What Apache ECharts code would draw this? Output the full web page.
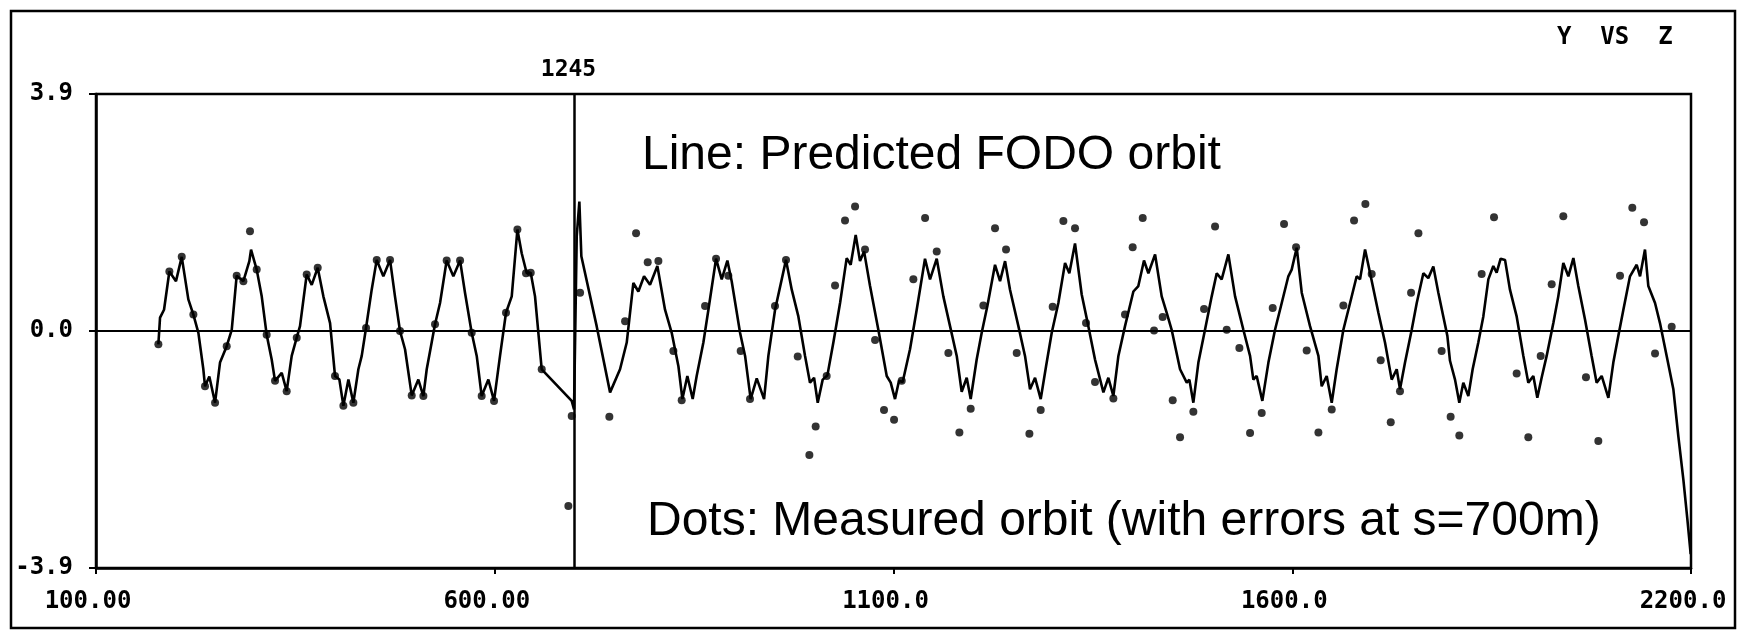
<!DOCTYPE html>
<html>
<head>
<meta charset="utf-8">
<script src="https://cdn.jsdelivr.net/npm/echarts@6/dist/echarts.min.js"></script>
<style>
html,body{margin:0;padding:0;background:#fff;}
#c{width:1740px;height:631px;}
</style>
</head>
<body>
<div id="c"></div>
<script>
// ---- data (s in m, y in mm) ----
const xTickValues = [100, 600, 1100, 1600, 2100];
const xTickLabels = ['100.00', '600.00', '1100.0', '1600.0', '2200.0'];
const yTickValues = [-3.9, 0, 3.9];
const yTickLabels = ['-3.9', '0.0', '3.9'];
const markerS = 700;
const markerLabel = '1245';
const cornerTitle = 'Y  VS  Z';
const lineNote = 'Line: Predicted FODO orbit';
const dotNote = 'Dots: Measured orbit (with errors at s=700m)';

// Predicted orbit (line)
const lineS = [178.2,180.3,185.3,192.0,200.3,207.5,215.8,222.1,228.4,234.6,236.7,242.1,249.3,255.5,263.9,270.2,276.4,284.8,292.3,294.4,301.5,307.8,314.0,320.3,324.5,332.9,339.1,345.4,351.7,355.8,364.2,370.5,378.0,385.1,393.5,399.7,405.2,410.2,416.5,422.7,429.0,433.2,438.6,445.7,452.0,460.3,468.7,474.9,481.2,487.5,495.9,504.2,510.5,
514.7,520.9,525.1,531.4,539.7,548.1,556.5,562.7,571.1,577.4,583.6,592.0,599.1,606.6,614.1,621.3,628.4,633.8,640.1,645.1,650.5,658.9,696.5,699.4,702.8,706.1,708.6,727.8,744.6,757.1,765.5,773.8,780.1,787.2,794.7,803.9,813.5,821.9,830.3,835.3,841.5,848.2,853.2,861.6,867.9,877.5,884.6,891.7,897.1,907.6,913.9,920.9,928.5,937.7,
943.1,951.5,965.2,972.4,980.7,989.1,995.3,1000.4,1005.0,1011.2,1017.1,1024.6,1033.0,1041.3,1046.3,1052.6,1058.0,1063.1,1070.6,1081.0,1091.5,1096.5,1101.9,1106.9,1111.5,1120.7,1129.1,1139.5,1145.8,1154.2,1162.5,1170.9,1179.3,1185.5,1191.8,1196.8,1204.3,1210.6,1217.7,1227.3,1233.6,1239.9,1246.1,1256.6,1264.9,1271.2,1277.5,1284.6,1291.3,1298.4,1306.7,1315.1,1320.5,1327.6,1336.0,1344.3,
1352.7,1363.2,1369.4,1375.7,1382.0,1390.3,1400.8,1407.0,1414.1,1419.6,1428.0,1436.3,1442.6,1448.8,1459.3,1467.7,1471.0,1476.0,1482.3,1490.6,1499.0,1505.3,1511.5,1519.9,1528.3,1538.7,1547.1,1551.2,1555.4,1562.5,1570.1,1578.4,1586.8,1595.1,1599.3,1605.6,1611.9,1622.3,1632.8,1636.9,1643.2,1649.5,1655.7,1664.1,1672.5,1680.8,1685.0,1691.3,1697.5,1708.0,1716.3,1724.7,1731.0,1735.1,1741.4,1749.8,1756.1,
1764.4,1770.6,1776.9,1783.2,1789.4,1794.5,1797.8,1804.1,1809.5,1814.5,1820.8,1826.2,1833.3,1839.6,1845.9,1852.1,1856.3,1861.3,1866.8,1873.0,1881.4,1889.8,1896.0,1902.3,1907.3,1912.7,1919.0,1927.4,1933.6,1939.9,1946.2,1952.5,1958.7,1967.1,1975.4,1981.7,1988.0,1996.4,2002.6,2008.9,2015.2,2023.5,2031.9,2036.1,2042.3,2046.5,2054.9,2061.1,2069.5,2077.9,2084.1,2090.4,2095.4,2099.6];
const lineY = [-0.22,0.22,0.35,0.98,0.82,1.22,0.52,0.27,-0.03,-0.63,-0.91,-0.75,-1.18,-0.52,-0.25,0.02,0.91,0.82,1.15,1.34,1.01,0.57,-0.06,-0.47,-0.82,-0.69,-0.99,-0.41,-0.11,0.08,0.93,0.76,1.04,0.57,0.13,-0.74,-0.80,-1.23,-0.80,-1.18,-0.63,-0.41,0.05,0.68,1.17,0.90,1.17,0.57,0.00,-0.30,-1.06,-0.80,-1.07,
-0.63,-0.19,0.11,0.46,1.16,0.90,1.16,0.63,-0.03,-0.41,-1.07,-0.80,-1.15,-0.41,0.30,0.57,1.67,1.28,0.95,0.96,0.57,-0.63,-1.15,-1.29,1.56,2.13,1.23,0.08,-1.01,-0.63,-0.19,0.79,0.65,0.90,0.76,1.07,0.35,-0.03,-0.58,-1.12,-0.74,-1.12,-0.74,-0.19,0.35,1.19,0.85,1.16,0.82,-0.03,-0.41,-1.12,-0.78,-1.12,
-0.41,0.35,1.17,0.68,0.24,-0.41,-0.85,-0.77,-1.18,-0.80,-0.73,-0.19,0.46,1.20,1.09,1.58,1.15,1.31,0.74,0.02,-0.74,-0.85,-1.12,-0.82,-0.84,-0.30,0.35,1.19,0.85,1.19,0.57,0.08,-0.41,-1.00,-0.77,-1.12,-0.47,-0.03,0.41,1.09,0.82,1.15,0.68,0.08,-0.41,-0.96,-0.77,-1.12,-0.58,-0.03,0.46,1.12,0.95,1.44,0.60,0.08,
-0.47,-1.01,-0.77,-1.07,-0.41,0.08,0.65,0.74,1.16,0.95,1.26,0.57,0.30,0.02,-0.63,-0.85,-0.80,-1.18,-0.52,0.02,0.57,0.95,0.85,1.26,0.57,0.02,-0.41,-0.80,-0.74,-1.15,-0.52,0.02,0.46,0.90,1.01,1.37,0.63,0.08,-0.41,-0.91,-0.74,-1.18,-0.63,0.02,0.46,0.90,0.85,1.34,0.96,0.30,-0.19,-0.80,-0.63,-0.96,-0.52,0.02,0.46,
0.95,0.87,1.06,0.63,0.24,-0.08,-0.49,-0.80,-1.18,-0.85,-1.07,-0.63,-0.19,0.24,0.85,1.07,0.96,1.19,1.17,0.68,0.24,-0.41,-0.85,-0.74,-1.10,-0.77,-0.41,0.13,0.57,1.12,0.90,1.20,0.74,0.19,-0.41,-0.85,-0.74,-1.10,-0.52,-0.08,0.35,0.90,1.09,0.90,1.34,0.74,0.46,0.13,-0.41,-0.96,-1.73,-2.44,-3.09,-3.67];

// Measured orbit (dots)
const dotS = [178.2,192.0,207.5,222.1,236.7,249.3,263.9,276.4,284.8,293.1,301.5,314.0,324.5,339.1,351.7,364.2,378.0,399.7,410.2,422.7,438.6,452.0,468.7,481.2,495.9,510.5,525.1,539.7,556.5,571.1,583.6,599.1,614.1,628.4,639.2,645.1,658.9,692.3,696.5,707.0,
743.7,763.4,777.2,791.8,805.2,824.0,834.4,863.7,877.5,892.9,908.4,920.1,951.4,965.2,979.9,994.5,1002.4,1016.2,1026.7,1039.2,1051.8,1064.3,1076.9,1088.1,1100.7,1110.3,1124.9,1139.6,1154.2,1168.8,1182.6,1196.8,1212.7,1227.3,1241.1,1254.5,1270.4,1284.6,1299.6,1313.0,1327.6,1341.4,
1352.7,1375.7,1390.3,1399.9,1412.5,1426.7,1437.5,1450.1,1459.3,1476.0,1489.4,1503.2,1517.8,1533.7,1547.1,1561.7,1575.5,1589.7,1604.8,1618.1,1632.8,1649.5,1664.1,1677.5,1691.7,1699.6,1710.9,1723.5,1735.1,1749.0,1758.2,
1787.3,1798.6,1809.5,1837.5,1853.0,1881.4,1896.0,1911.5,1925.3,1939.9,1968.3,1983.8,2011.0,2026.4,2041.1,2054.9,2075.8];
const dotY = [-0.22,0.98,1.22,0.27,-0.91,-1.18,-0.25,0.91,0.82,1.64,1.01,-0.06,-0.82,-0.99,-0.11,0.93,1.04,-0.74,-1.23,-1.18,0.05,1.17,1.17,0.00,-1.06,-1.07,0.11,1.16,1.16,-0.03,-1.07,-1.15,0.30,1.67,0.95,0.96,-0.63,-2.88,-1.40,0.63,
-1.41,0.16,1.61,1.13,1.15,-0.33,-1.14,0.41,1.19,0.91,-0.33,-1.12,0.41,1.17,-0.42,-2.04,-1.57,-0.74,0.75,1.82,2.05,1.34,-0.15,-1.30,-1.46,-0.82,0.85,1.86,1.31,-0.36,-1.67,-1.28,0.42,1.69,1.34,-0.36,-1.69,-1.30,0.40,1.81,1.69,0.13,
-0.84,-1.11,0.27,1.38,1.86,0.01,0.23,-1.14,-1.75,-1.33,0.36,1.72,0.02,-0.28,-1.68,-1.35,0.38,1.76,1.38,-0.32,-1.67,-1.29,0.42,1.82,2.09,0.94,-0.48,-1.50,-0.99,0.63,1.61,
-0.33,-1.41,-1.72,0.94,1.87,-0.70,-1.75,-0.41,0.77,1.89,-0.76,-1.81,0.91,2.03,1.79,-0.37,0.07];

// ---- build ----
const ink = '#000';
const monoFont = 'DejaVu Sans Mono';
const lineData = lineS.map((s, i) => [s, lineY[i]]);
const dotData = dotS.map((s, i) => [s, dotY[i]]);

const chart = echarts.init(document.getElementById('c'), null, {renderer: 'canvas'});
chart.setOption({
  backgroundColor: '#ffffff',
  animation: false,
  grid: {left: 96, right: 49, top: 94, bottom: 63, show: true, borderColor: ink, borderWidth: 2.5, backgroundColor: 'transparent'},
  xAxis: {
    type: 'value', min: 100, max: 2100, interval: 500,
    axisLine: {show: true, onZero: false, lineStyle: {color: ink, width: 2.5}},
    axisTick: {show: true, length: 6, lineStyle: {color: ink, width: 2}},
    splitLine: {show: false},
    axisLabel: {
      show: true, showMinLabel: true, showMaxLabel: true, margin: 22,
      padding: [0, 16, 0, 0],
      color: ink, fontFamily: monoFont, fontWeight: 'bold', fontSize: 24,
      formatter: v => { const k = xTickValues.findIndex(t => Math.abs(t - v) < 1e-6); return k >= 0 ? xTickLabels[k] : ''; }
    }
  },
  yAxis: {
    type: 'value', min: -3.9, max: 3.9, interval: 3.9,
    axisLine: {show: true, onZero: false, lineStyle: {color: ink, width: 2.5}},
    axisTick: {show: true, length: 7, lineStyle: {color: ink, width: 2}},
    splitLine: {show: true, lineStyle: {color: ink, width: 2}},
    axisLabel: {
      show: true, showMinLabel: true, showMaxLabel: true, margin: 23,
      color: ink, fontFamily: monoFont, fontWeight: 'bold', fontSize: 24,
      formatter: v => { const k = yTickValues.findIndex(t => Math.abs(t - v) < 1e-6); return k >= 0 ? yTickLabels[k] : ''; }
    }
  },
  series: [
    {
      name: 'Predicted', type: 'line', data: lineData, showSymbol: false, symbol: 'none',
      lineStyle: {color: ink, width: 2.6}, z: 3, clip: false,
      markLine: {
        silent: true, symbol: 'none', animation: false,
        lineStyle: {color: ink, width: 2.5, type: 'solid'},
        label: {show: true, position: 'end', formatter: markerLabel, distance: 12,
                color: ink, fontFamily: monoFont, fontWeight: 'bold', fontSize: 23, padding: [0, 12, 0, 0]},
        data: [{xAxis: markerS}]
      }
    },
    {
      name: 'Measured', type: 'scatter', data: dotData, symbol: 'circle', symbolSize: 8,
      itemStyle: {color: ink}, z: 4
    }
  ],
  graphic: [
    {type: 'rect', silent: true, shape: {x: 11, y: 11, width: 1724, height: 617},
     style: {fill: 'none', stroke: ink, lineWidth: 2.5}},
    {type: 'text', left: 1557, top: 26, silent: true,
     style: {text: cornerTitle, font: 'bold 24px "DejaVu Sans Mono"', fill: ink}},
    {type: 'text', left: 642, top: 132, silent: true,
     style: {text: lineNote, font: '48px "Liberation Sans"', fill: '#000'}},
    {type: 'text', left: 647, top: 498, silent: true,
     style: {text: dotNote, font: '48px "Liberation Sans"', fill: '#000'}}
  ]
});
</script>
</body>
</html>
